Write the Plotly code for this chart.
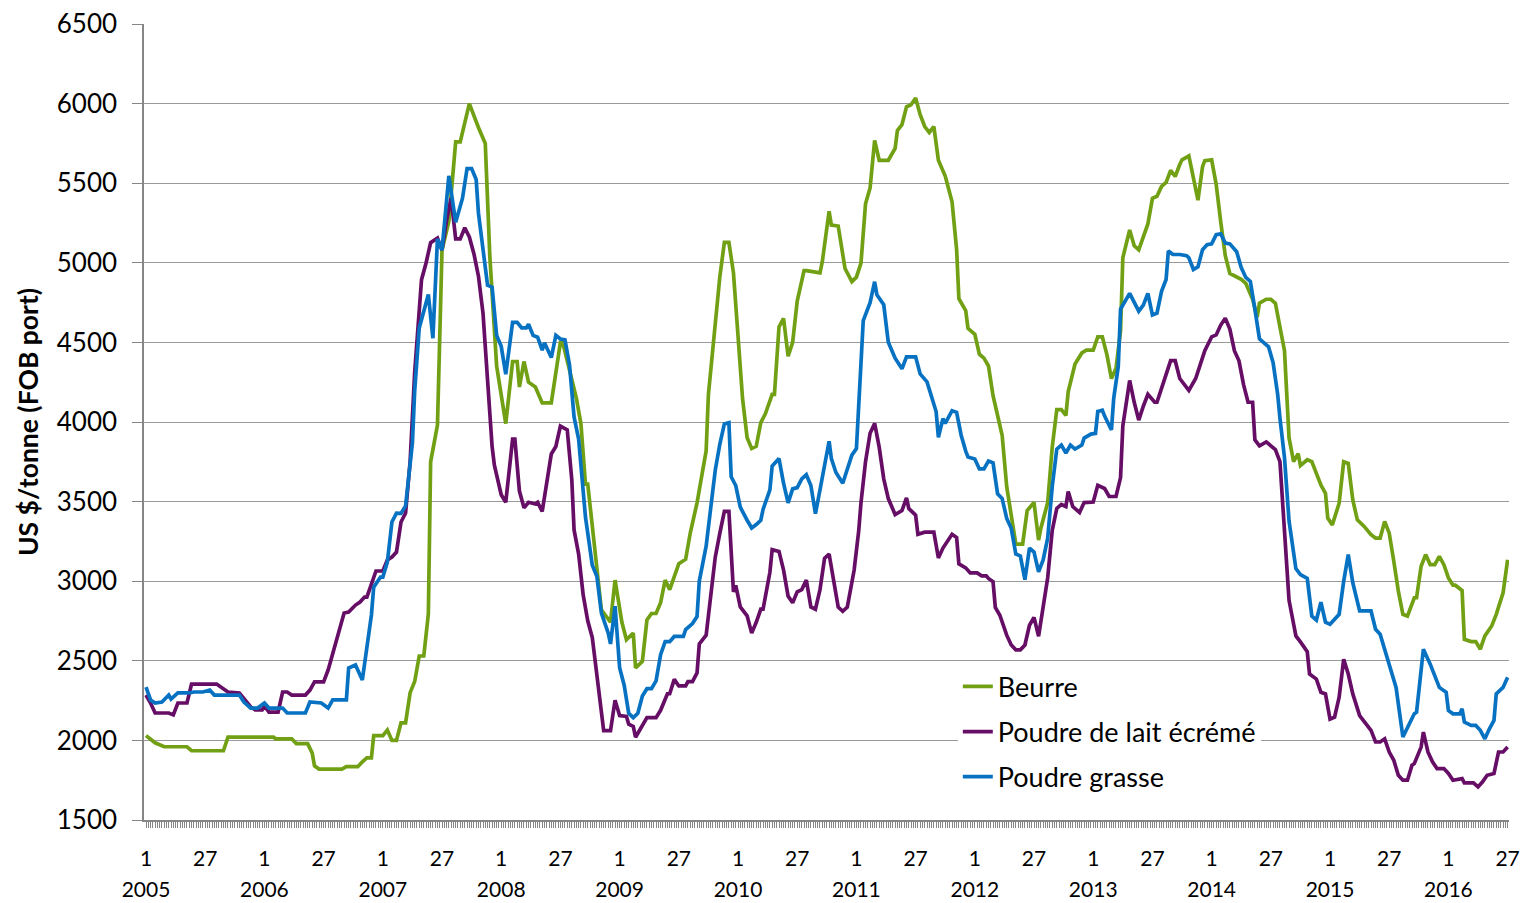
import plotly.graph_objects as go

# ---------------- data ----------------
years = list(range(2005, 2017))
week_labels = ["1", "27"]
weeks_per_year = 52
n_weeks = 599

beurre_week = [0,4,8,18,20,34,36,56,57,64,66,71,73,74,76,86,88,93,95,97,99,100,104,106,108,110,112,114,116,118,120,122,124,125,128,130,133,136,138,142,146,149,151,153,154,158,161,163,164,166,168,171,174,178,182,183,189,191,193,194,198,200,204,206,209,211,214,215,218,220,222,224,226,228,230,234,237,239,242,244,246,247,250,252,254,256,258,260,262,264,266,268,270,272,275,276,278,280,282,284,286,289,290,296,297,300,301,304,307,310,312,314,316,318,320,322,326,329,330,332,334,336,338,340,342,344,346,348,351,354,356,357,360,361,364,366,368,370,372,374,376,378,380,382,385,387,390,392,393,396,398,400,402,404,405,408,411,413,416,418,420,422,424,426,428,429,432,434,436,438,440,442,444,446,448,450,452,454,455,458,460,462,464,465,468,470,472,474,476,479,481,483,486,488,489,492,494,496,498,500,502,504,506,507,510,512,514,516,518,519,521,524,526,528,530,532,535,538,540,542,544,546,548,550,552,554,557,558,560,562,564,566,568,570,572,574,575,578,579,582,584,586,588,591,593,596,598]
beurre_price = [2030,1985,1960,1960,1935,1935,2020,2020,2010,2010,1980,1980,1920,1840,1820,1820,1835,1835,1865,1890,1890,2030,2030,2065,2000,2000,2110,2110,2300,2370,2530,2530,2795,3750,3980,5080,5260,5760,5760,6000,5850,5750,5040,4550,4350,3990,4380,4380,4220,4380,4250,4220,4120,4120,4500,4500,4150,3990,3610,3610,3070,2820,2742,3007,2742,2633,2674,2456,2497,2756,2797,2797,2865,3007,2947,3110,3138,3301,3492,3656,3819,4174,4610,4910,5128,5128,4937,4556,4146,3901,3833,3847,3996,4051,4174,4174,4597,4651,4413,4501,4760,4951,4951,4937,5005,5324,5237,5231,4964,4882,4910,4998,5371,5470,5769,5644,5644,5719,5831,5868,5980,5993,6035,5930,5856,5819,5856,5644,5545,5383,5085,4774,4700,4588,4551,4426,4401,4352,4165,4041,3917,3594,3395,3233,3233,3444,3494,3258,3333,3494,3842,4078,4078,4041,4190,4364,4434,4451,4451,4535,4535,4423,4273,4336,4572,5032,5206,5107,5082,5157,5244,5405,5418,5480,5505,5580,5542,5617,5647,5672,5517,5393,5604,5642,5647,5493,5256,5045,4933,4908,4896,4871,4771,4659,4746,4771,4771,4746,4597,4448,3900,3751,3801,3726,3763,3751,3677,3604,3552,3396,3354,3490,3750,3740,3510,3385,3344,3292,3271,3271,3375,3302,3125,2938,2792,2781,2896,2896,3094,3167,3104,3104,3156,3104,3021,2975,2975,2942,2635,2621,2621,2573,2656,2719,2792,2927,3135]

ple_week = [0,2,4,10,12,14,18,20,31,33,36,41,43,46,48,51,52,54,58,60,62,64,70,72,74,78,80,82,84,85,87,89,92,94,96,97,100,101,104,106,108,110,112,114,116,118,121,123,125,128,130,132,134,136,138,140,142,144,146,148,150,152,153,156,158,161,162,164,166,168,171,172,174,176,178,180,182,185,187,188,190,192,194,196,198,199,201,204,206,208,211,212,214,215,218,220,224,226,229,230,232,234,237,238,240,242,243,246,247,250,252,254,256,258,259,261,264,266,268,270,271,274,275,278,280,282,284,286,288,290,292,294,296,298,300,302,304,306,308,311,313,314,316,318,320,322,324,326,329,332,334,335,338,339,342,346,348,350,354,356,357,360,362,365,367,369,370,372,373,375,378,380,382,384,386,388,390,392,394,396,398,400,402,404,405,407,410,412,416,418,421,423,426,428,429,432,434,436,438,440,443,444,446,448,450,452,454,458,461,463,465,468,470,472,474,476,478,480,482,484,486,487,489,492,494,496,498,500,502,504,505,507,510,511,514,516,518,520,522,524,526,528,530,533,536,538,540,542,544,546,548,550,552,554,556,557,560,561,563,565,567,570,572,574,578,579,583,585,587,589,592,594,596,598]
ple_price = [2285,2235,2172,2172,2160,2235,2235,2354,2354,2335,2304,2298,2260,2210,2191,2191,2216,2178,2178,2304,2304,2285,2285,2316,2367,2367,2442,2549,2649,2693,2800,2806,2850,2869,2900,2900,3026,3064,3064,3133,3152,3183,3372,3428,3753,4311,4894,4999,5127,5155,5080,5266,5406,5150,5150,5220,5162,5057,4917,4684,4265,3846,3729,3543,3496,3892,3892,3566,3461,3496,3485,3496,3438,3613,3799,3846,3974,3951,3636,3322,3170,2914,2751,2646,2425,2306,2061,2061,2252,2156,2151,2102,2088,2020,2088,2143,2143,2189,2293,2293,2383,2342,2342,2369,2369,2424,2606,2661,2783,3151,3301,3438,3438,2933,2974,2838,2783,2674,2742,2824,2824,3056,3198,3187,3070,2906,2865,2933,2947,3007,2838,2824,2947,3143,3171,2988,2838,2811,2838,3070,3315,3492,3751,3929,3991,3842,3643,3519,3419,3444,3524,3457,3415,3295,3308,3308,3146,3208,3295,3275,3109,3084,3052,3052,3034,3034,3017,2997,2835,2786,2661,2599,2569,2569,2599,2723,2773,2654,2848,3022,3320,3457,3482,3469,3564,3469,3432,3494,3497,3602,3582,3532,3532,3651,3975,4261,4124,4012,4099,4174,4124,4124,4211,4298,4385,4385,4273,4199,4273,4360,4448,4535,4547,4609,4652,4584,4448,4385,4236,4124,4124,3888,3850,3875,3850,3826,3751,3278,2880,2731,2656,2619,2557,2417,2385,2302,2292,2134,2146,2271,2510,2417,2292,2156,2104,2063,1990,1990,2010,1927,1875,1781,1750,1750,1844,1854,1958,2052,1927,1865,1823,1823,1792,1750,1760,1733,1733,1708,1740,1781,1792,1927,1927,1958]

pg_week = [0,2,4,7,10,11,14,19,21,25,28,30,41,43,46,49,52,54,60,62,70,72,77,80,82,88,89,92,95,97,99,100,103,104,106,108,110,112,114,117,118,120,124,126,128,130,133,136,139,141,143,145,146,150,152,154,156,158,161,163,165,167,168,170,172,174,175,178,180,182,184,186,188,190,192,193,196,198,200,203,204,206,208,210,212,214,216,218,220,222,224,226,228,230,232,236,237,240,242,243,246,248,250,252,254,256,257,259,261,264,266,268,270,271,274,275,278,280,282,284,286,288,290,292,294,296,298,300,301,303,306,307,310,312,313,315,318,320,321,324,326,329,332,334,338,340,343,345,347,348,350,351,354,356,358,360,361,364,366,368,370,372,374,376,378,380,382,384,386,388,390,392,394,396,398,400,402,404,406,408,411,412,415,417,418,420,421,424,425,427,428,432,434,436,438,440,442,444,446,448,449,451,454,457,458,460,462,464,466,468,470,472,474,476,479,481,483,485,487,489,491,493,495,497,498,500,502,504,505,507,510,512,514,516,518,520,524,526,528,530,533,538,540,542,546,549,552,554,557,558,561,564,568,571,572,574,577,578,579,582,584,586,588,590,592,593,596,598]
pg_price = [2335,2254,2235,2241,2285,2260,2298,2298,2304,2304,2316,2285,2285,2241,2203,2203,2235,2203,2203,2172,2172,2241,2235,2203,2254,2254,2455,2474,2380,2587,2788,2963,3026,3026,3120,3372,3428,3426,3473,3869,4195,4591,4801,4526,5150,5080,5546,5255,5406,5592,5592,5523,5313,4859,4847,4544,4475,4300,4626,4626,4591,4591,4614,4544,4533,4451,4498,4405,4544,4521,4516,4358,4032,3892,3520,3403,3100,3031,2800,2674,2606,2843,2456,2347,2170,2143,2170,2279,2325,2325,2374,2538,2620,2620,2653,2653,2696,2734,2778,3001,3220,3465,3697,3860,3988,3996,3656,3601,3465,3383,3334,3356,3383,3451,3574,3724,3770,3615,3492,3580,3588,3642,3669,3601,3424,3574,3737,3879,3770,3683,3615,3656,3792,3833,4092,4637,4750,4881,4799,4737,4501,4401,4334,4409,4409,4302,4252,4160,4066,3904,4021,3991,4071,4061,3917,3817,3780,3768,3705,3705,3755,3743,3549,3519,3395,3332,3171,3158,3009,3208,3183,3059,3134,3270,3594,3830,3855,3805,3855,3830,3855,3899,3924,3929,4066,4074,4037,3950,4149,4348,4709,4808,4746,4696,4734,4808,4672,4684,4821,4895,5075,5052,5052,5045,5032,4958,4975,5082,5114,5119,5177,5182,5124,5119,5070,4970,4908,4883,4709,4522,4497,4472,4373,4174,4025,3776,3378,3154,3079,3042,3017,2781,2756,2868,2743,2729,2792,3000,3167,2990,2813,2813,2698,2667,2479,2333,2021,2083,2167,2177,2573,2479,2333,2302,2188,2167,2167,2198,2115,2094,2094,2063,2010,2073,2125,2292,2333,2396]

series_names = ["Beurre", "Poudre de lait écrémé", "Poudre grasse"]
series_colors = ["#71A014", "#660E66", "#0872C2"]

assert len(beurre_week) == len(beurre_price)
assert len(ple_week) == len(ple_price)
assert len(pg_week) == len(pg_price)

# week tick labels (1 and 27 of each year) and year labels
tickvals = list(range(n_weeks))
ticktext = []
for w in tickvals:
    yi, wk = divmod(w, weeks_per_year)
    if wk == 0:
        ticktext.append(week_labels[0])
    elif wk == 26:
        ticktext.append(week_labels[1])
    else:
        ticktext.append("")
year_tickvals = [i * weeks_per_year for i in range(len(years))]
year_ticktext = [str(y) for y in years]

FONT = "Lato, Carlito, Calibri, sans-serif"
GRID = "#9a9a9a"
AXIS = "#868686"

fig = go.Figure()
for name, color, xs, ys in zip(series_names, series_colors,
                               [beurre_week, ple_week, pg_week],
                               [beurre_price, ple_price, pg_price]):
    fig.add_trace(go.Scatter(x=xs, y=ys, mode="lines", name=name,
                             legendgroup=name,
                             line=dict(color=color, width=3.7)))

# empty helper trace so the year-label axis is drawn
fig.add_trace(go.Scatter(x=year_tickvals, y=[None] * len(year_tickvals),
                         xaxis="x2", yaxis="y", mode="lines",
                         showlegend=False, hoverinfo="skip"))

XRANGE = [-0.88, 598.6]
fig.update_layout(
    width=1520, height=903,
    margin=dict(l=144, r=11, t=24, b=83, autoexpand=False),
    paper_bgcolor="white", plot_bgcolor="white",
    font=dict(family=FONT, color="black"),
    showlegend=True,
    xaxis=dict(range=XRANGE, tickmode="array", tickvals=tickvals,
               ticktext=ticktext, tickangle=0, ticks="outside", ticklen=6,
               tickwidth=1, tickcolor=AXIS, showline=True, linecolor=AXIS,
               linewidth=1.5, showgrid=False, zeroline=False,
               tickfont=dict(size=21, family=FONT, color="black"),
               ticklabelstandoff=13, ticklabeloverflow="allow"),
    xaxis2=dict(range=XRANGE, overlaying="x", anchor="y",
                side="bottom", tickmode="array", tickvals=year_tickvals,
                ticktext=year_ticktext, tickangle=0, ticks="",
                showline=False, showgrid=False, zeroline=False,
                tickfont=dict(size=21, family=FONT, color="black"),
                ticklabelstandoff=55, ticklabeloverflow="allow"),
    yaxis=dict(range=[1500, 6500], tick0=1500, dtick=500, ticks="outside",
               ticklen=10, tickwidth=1.3, tickcolor=AXIS, showline=True,
               linecolor=AXIS, linewidth=1.5, showgrid=True, gridcolor=GRID,
               gridwidth=1.3, zeroline=False,
               tickfont=dict(size=26, family=FONT, color="black"),
               ticklabelstandoff=10,
               title=dict(text="<b>US $/tonne (FOB port)</b>",
                          font=dict(size=26.5, family=FONT, color="black"),
                          standoff=10)),
    legend=dict(x=0.5962, y=0.198, xanchor="left", yanchor="top",
                bgcolor="white", borderwidth=0,
                font=dict(size=27, family=FONT, color="black"),
                tracegroupgap=7, itemwidth=30),
)

fig.write_html("out.html", config={"displayModeBar": False},
               post_script="document.body.style.margin='0';document.body.style.overflow='hidden';")
